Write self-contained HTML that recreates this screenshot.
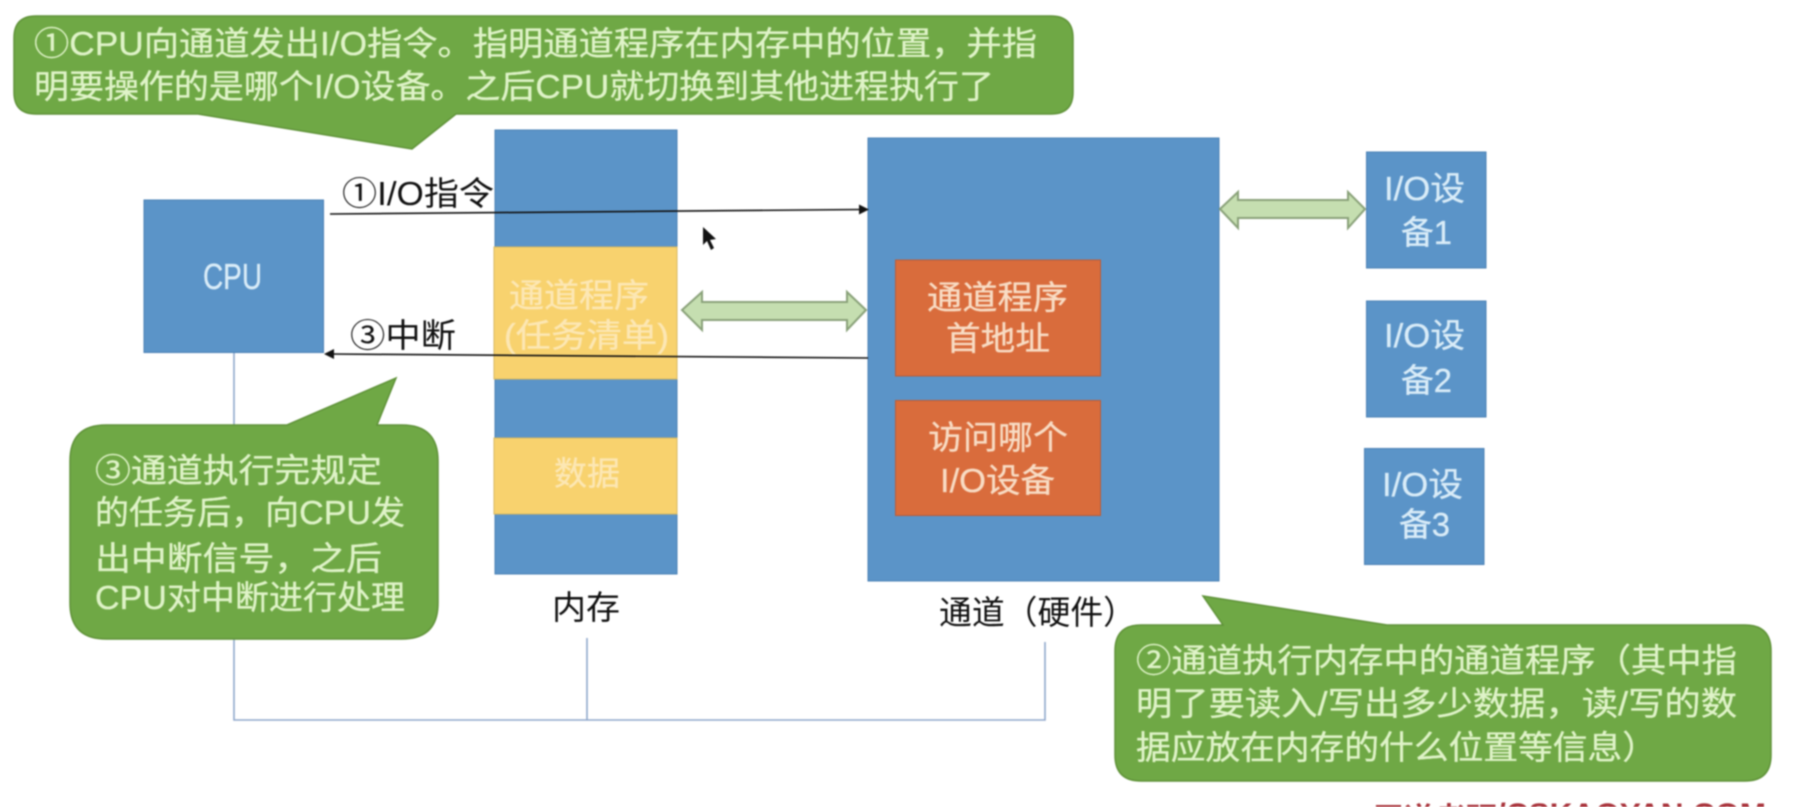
<!DOCTYPE html>
<html lang="zh">
<head>
<meta charset="utf-8">
<title>通道工作流程</title>
<style>
html,body{margin:0;padding:0;background:#fff;width:1793px;height:807px;overflow:hidden}
svg{display:block;filter:blur(0.8px)}
text{font-family:"Liberation Sans","Noto Sans CJK SC",sans-serif;font-size:33px}
.g{fill:#dff3c8;stroke:#dff3c8;stroke-width:.3}
.w{fill:#d9ecf8;stroke:#d9ecf8;stroke-width:.3}
.y{fill:#fce7b4;stroke:#fce7b4;stroke-width:.3}
.o{fill:#f8dcc4;stroke:#f8dcc4;stroke-width:.3}
.k{fill:#111}
</style>
</head>
<body>
<svg width="1793" height="807" viewBox="0 0 1793 807" xmlns="http://www.w3.org/2000/svg">
<rect width="1793" height="807" fill="#fff"/>

<!-- bus -->
<path d="M234 352V720H1045V642M587 638V720" fill="none" stroke="#90a8cc" stroke-width="1.6"/>

<!-- CPU -->
<rect x="144" y="200" width="179.500" height="152.500" fill="#5b94c8" stroke="#4a80b4"/>
<text class="w" x="203" y="289" textLength="59" lengthAdjust="spacingAndGlyphs" style="font-size:36px">CPU</text>

<!-- Memory -->
<rect x="495" y="130" width="182" height="444" fill="#5b94c8" stroke="#4a80b4"/>
<rect x="494" y="247" width="183" height="132" fill="#f8d26e" stroke="#d8b860"/>
<rect x="494" y="438" width="183" height="76" fill="#f8d26e" stroke="#d8b860"/>
<text class="y" x="509" y="307" textLength="140" lengthAdjust="spacingAndGlyphs">通道程序</text>
<text class="y" x="504" y="347" textLength="165" lengthAdjust="spacingAndGlyphs">(任务清单)</text>
<text class="y" x="554" y="485" textLength="66" lengthAdjust="spacingAndGlyphs">数据</text>
<text class="k" x="552" y="619" textLength="68" lengthAdjust="spacingAndGlyphs">内存</text>

<!-- Channel -->
<rect x="868" y="138" width="351" height="443" fill="#5b94c8" stroke="#4a80b4"/>
<rect x="895.500" y="260" width="205" height="116" fill="#d96c3c" stroke="#b85c3a"/>
<rect x="895.500" y="400.500" width="205" height="115" fill="#d96c3c" stroke="#b85c3a"/>
<text class="o" x="927" y="309" textLength="141" lengthAdjust="spacingAndGlyphs">通道程序</text>
<text class="o" x="946" y="350" textLength="104" lengthAdjust="spacingAndGlyphs">首地址</text>
<text class="o" x="928" y="449" textLength="140" lengthAdjust="spacingAndGlyphs">访问哪个</text>
<text class="o" x="940" y="492" textLength="115" lengthAdjust="spacingAndGlyphs">I/O设备</text>
<text class="k" x="939" y="624" textLength="197" lengthAdjust="spacingAndGlyphs">通道（硬件）</text>

<!-- IO devices -->
<rect x="1366.500" y="152" width="119.500" height="116" fill="#5b94c8" stroke="#4a80b4"/>
<rect x="1366.500" y="301" width="119.500" height="116" fill="#5b94c8" stroke="#4a80b4"/>
<rect x="1364.500" y="448.500" width="119.500" height="116" fill="#5b94c8" stroke="#4a80b4"/>
<text class="w" x="1384" y="200" textLength="81" lengthAdjust="spacingAndGlyphs">I/O设</text>
<text class="w" x="1401" y="244" textLength="51" lengthAdjust="spacingAndGlyphs">备1</text>
<text class="w" x="1384" y="347" textLength="81" lengthAdjust="spacingAndGlyphs">I/O设</text>
<text class="w" x="1401" y="392" textLength="51" lengthAdjust="spacingAndGlyphs">备2</text>
<text class="w" x="1382" y="496" textLength="81" lengthAdjust="spacingAndGlyphs">I/O设</text>
<text class="w" x="1399" y="536" textLength="51" lengthAdjust="spacingAndGlyphs">备3</text>

<!-- Double arrows -->
<polygon points="1220,209 1238,192 1238,200 1348,200 1348,192 1365,209 1348,228 1348,218 1238,218 1238,228" fill="#c5deb0" stroke="#8aa27a" stroke-width="2"/>
<polygon points="682,310 702,292 702,302 847,302 847,292 866,310 847,330 847,320 702,320 702,330" fill="#c5deb0" stroke="#8aa27a" stroke-width="2"/>

<!-- Signal lines -->
<line x1="330" y1="214" x2="862" y2="209.500" stroke="#111" stroke-width="1.6"/>
<polygon points="869,209.500 859,204.500 859,214.500" fill="#111"/>
<line x1="868" y1="358" x2="331" y2="354" stroke="#111" stroke-width="1.6"/>
<polygon points="324,354 334,349 334,359" fill="#111"/>
<text class="k" x="342" y="205" textLength="152" lengthAdjust="spacingAndGlyphs">①I/O指令</text>
<text class="k" x="350" y="347" textLength="106" lengthAdjust="spacingAndGlyphs">③中断</text>

<!-- Top callout -->
<path d="M36 16H1051Q1073 16 1073 38V92Q1073 114 1051 114H456L412 149L198 114H36Q14 114 14 92V38Q14 16 36 16Z" fill="#6fa845" stroke="#5f9238" stroke-width="1.5"/>
<text class="g" x="34" y="55" textLength="1003" lengthAdjust="spacingAndGlyphs">①CPU向通道发出I/O指令。指明通道程序在内存中的位置，并指</text>
<text class="g" x="34" y="98" textLength="960" lengthAdjust="spacingAndGlyphs">明要操作的是哪个I/O设备。之后CPU就切换到其他进程执行了</text>

<!-- Left callout -->
<path d="M106 425H287L396 378L377 425H402Q438 425 438 461V603Q438 639 402 639H106Q70 639 70 603V461Q70 425 106 425Z" fill="#6fa845" stroke="#5f9238" stroke-width="1.5"/>
<text class="g" x="95" y="482" textLength="287" lengthAdjust="spacingAndGlyphs">③通道执行完规定</text>
<text class="g" x="95" y="524" textLength="310" lengthAdjust="spacingAndGlyphs">的任务后，向CPU发</text>
<text class="g" x="95" y="570" textLength="287" lengthAdjust="spacingAndGlyphs">出中断信号，之后</text>
<text class="g" x="95" y="609" textLength="310" lengthAdjust="spacingAndGlyphs">CPU对中断进行处理</text>

<!-- Right callout -->
<path d="M1141 625H1223L1203 596L1387 625H1745Q1771 625 1771 651V755Q1771 781 1745 781H1141Q1115 781 1115 755V651Q1115 625 1141 625Z" fill="#6fa845" stroke="#5f9238" stroke-width="1.5"/>
<text class="g" x="1136" y="672" textLength="601" lengthAdjust="spacingAndGlyphs">②通道执行内存中的通道程序（其中指</text>
<text class="g" x="1136" y="715" textLength="601" lengthAdjust="spacingAndGlyphs">明了要读入/写出多少数据，读/写的数</text>
<text class="g" x="1136" y="759" textLength="521" lengthAdjust="spacingAndGlyphs">据应放在内存的什么位置等信息）</text>

<!-- Cursor -->
<polygon points="703,227 703,245 707,241 711,250 714,248 710,240 716,239" fill="#111"/>

<!-- Watermark -->
<text x="1373" y="829" textLength="124" lengthAdjust="spacingAndGlyphs" style="font-size:30px;fill:#a8323a;font-weight:bold">王道考研</text>
<text x="1497" y="824" textLength="269" lengthAdjust="spacingAndGlyphs" style="font-size:30px;fill:#a8323a;font-weight:bold">/CSKAOYAN.COM</text>
</svg>
</body>
</html>
